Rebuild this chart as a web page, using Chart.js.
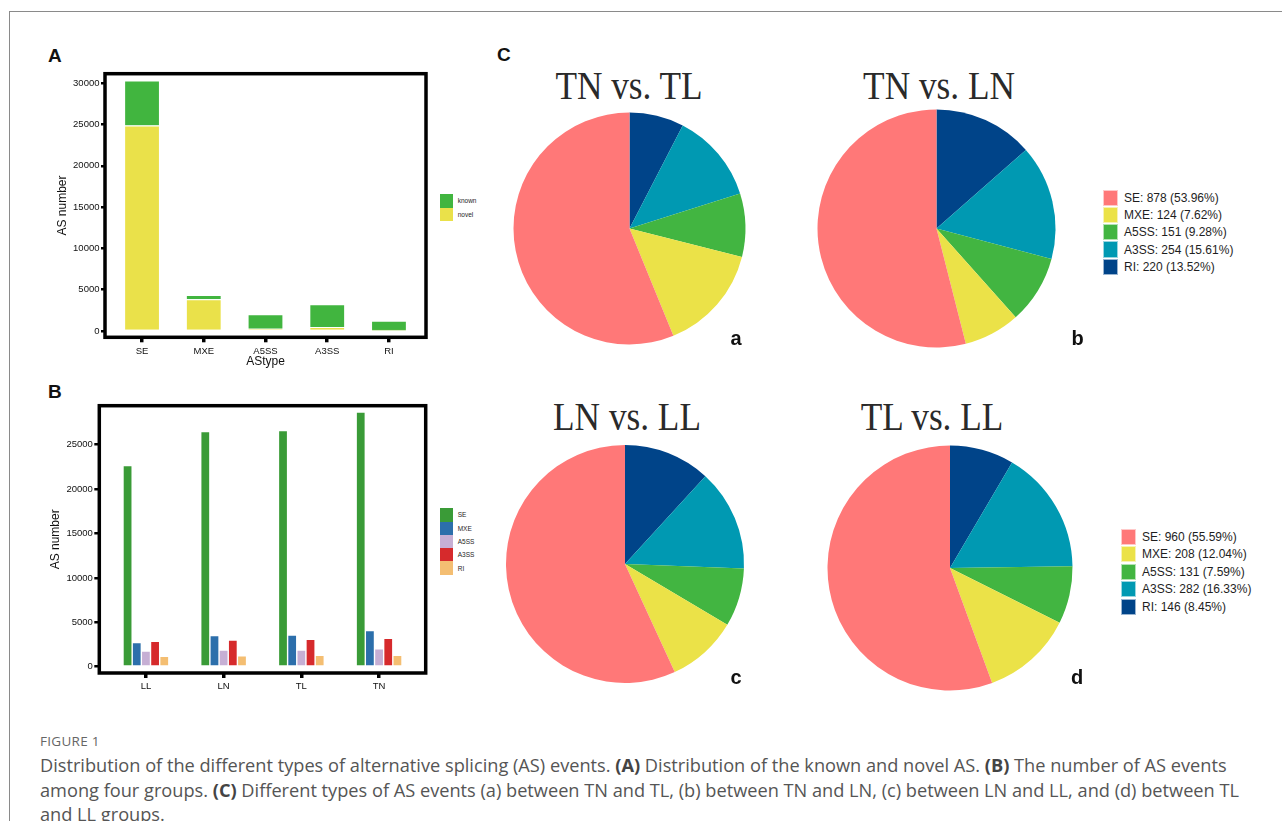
<!DOCTYPE html>
<html>
<head>
<meta charset="utf-8">
<script src="https://cdn.jsdelivr.net/npm/chart.js@4/dist/chart.umd.min.js"></script>
<style>
  html, body { margin: 0; padding: 0; background: #fff; }
  body { width: 1282px; height: 821px; position: relative; overflow: hidden; font-family: "Liberation Sans", Arial, sans-serif; }
  .fig-frame { position: absolute; left: 9px; top: 11px; width: 1400px; height: 1000px; border-left: 1.5px solid #8a8a8a; border-top: 1.5px solid #8a8a8a; }
  canvas { position: absolute; }
  .panel { position: absolute; font-weight: bold; font-size: 19px; line-height: 19px; color: #111; }
  .sub { position: absolute; font-weight: bold; font-size: 20px; line-height: 20px; color: #111; }
  .ptitle { position: absolute; font-family: "Liberation Serif", serif; font-size: 41px; line-height: 41px; color: #2a2a2a; white-space: nowrap; transform: translateX(-50%) scaleX(0.86); }
  .legend { position: absolute; color: #1e1e1e; white-space: nowrap; }
  .legend .row { display: flex; align-items: center; }
  .legend .sw { display: inline-block; box-sizing: border-box; }
  .caption { position: absolute; left: 40px; font-family: "Open Sans", sans-serif; color: #555; white-space: nowrap; }
  .caption b { color: #444; font-weight: 700; }
</style>
</head>
<body>
<div class="fig-frame"></div>

<div class="panel" style="left:48px;top:46px;">A</div>
<div class="panel" style="left:48px;top:382px;">B</div>
<div class="panel" style="left:497px;top:45px;">C</div>

<canvas id="chartA" width="381" height="313" style="left:51px;top:60px;"></canvas>
<div id="legendA" class="legend" style="left:440px;top:194.3px;font-size:6.5px;"></div>

<canvas id="chartB" width="388" height="305" style="left:44px;top:390px;"></canvas>
<div id="legendB" class="legend" style="left:440px;top:508.3px;font-size:6.5px;"></div>

<div class="ptitle" style="left:629px;top:64.7px;">TN vs. TL</div>
<div class="ptitle" style="left:938.5px;top:64.7px;">TN vs. LN</div>
<div class="ptitle" style="left:627px;top:396.4px;">LN vs. LL</div>
<div class="ptitle" style="left:932px;top:396.4px;">TL vs. LL</div>

<canvas id="pieA" width="251" height="251" style="left:504px;top:103px;"></canvas>
<canvas id="pieB" width="251" height="251" style="left:811px;top:103px;"></canvas>
<canvas id="pieC" width="250" height="250" style="left:500px;top:439px;"></canvas>
<canvas id="pieD" width="250" height="250" style="left:825px;top:443px;"></canvas>

<div id="legendTop" class="legend" style="left:1102.7px;top:189px;font-size:12px;"></div>
<div id="legendBottom" class="legend" style="left:1120.7px;top:528px;font-size:12px;"></div>

<div class="sub" style="left:730.5px;top:328px;">a</div>
<div class="sub" style="left:1071.5px;top:328px;">b</div>
<div class="sub" style="left:730.5px;top:666.5px;">c</div>
<div class="sub" style="left:1071px;top:667px;">d</div>

<div class="caption" style="top:732px;font-size:13.5px;letter-spacing:0.3px;color:#666;">FIGURE 1</div>
<div class="caption" style="top:753px;font-size:18.2px;line-height:24.5px;">
Distribution of the different types of alternative splicing (AS) events. <b>(A)</b> Distribution of the known and novel AS. <b>(B)</b> The number of AS events<br>
among four groups. <b>(C)</b> Different types of AS events (a) between TN and TL, (b) between TN and LN, (c) between LN and LL, and (d) between TL<br>
and LL groups.
</div>

<script>
// ---- Panel A: known vs. novel AS events per type ----
const asTypes = ['SE', 'MXE', 'A5SS', 'A3SS', 'RI'];
const knownCounts = [5450, 500, 1740, 2750, 1190];
const novelCounts = [24900, 3850, 280, 480, 60];
const yTicksA = [0, 5000, 10000, 15000, 20000, 25000, 30000];

// ---- Panel B: AS events per group ----
const groups = ['LL', 'LN', 'TL', 'TN'];
const seByGroup   = [22660, 26490, 26600, 28680];
const mxeByGroup  = [2710, 3500, 3570, 4060];
const a5ssByGroup = [1770, 1880, 1880, 2030];
const a3ssByGroup = [2860, 3010, 3090, 3200];
const riByGroup   = [1170, 1240, 1280, 1280];
const yTicksB = [0, 5000, 10000, 15000, 20000, 25000];

// ---- Panel C: differential AS events per comparison ----
const pieTypes = ['SE', 'MXE', 'A5SS', 'A3SS', 'RI'];
const tnVsTl = [955, 253, 150, 213, 129];
const tnVsLn = [878, 124, 151, 254, 220];
const lnVsLl = [853, 144, 119, 207, 177];
const tlVsLl = [960, 208, 131, 282, 146];

const colorsA = { known: '#41B53F', novel: '#EAE14A' };
const colorsB = ['#3A9B37', '#2C6FAB', '#C6AFD4', '#D62A2C', '#F4BE72'];
const pieColors = ['#FF7878', '#EBE248', '#42B541', '#0099B2', '#004489'];

Chart.defaults.font.family = '"Liberation Sans", Arial, sans-serif';
Chart.defaults.color = '#111';

// thick black box around the plotting panel
const panelFrame = {
  id: 'panelFrame',
  afterDatasetsDraw(chart, args, opts) {
    const { ctx, chartArea: a } = chart;
    ctx.save();
    ctx.strokeStyle = '#000';
    ctx.lineWidth = opts.width || 3.5;
    ctx.strokeRect(a.left, a.top, a.right - a.left, a.bottom - a.top);
    ctx.restore();
  }
};

function points(values) {
  return values.map((v, i) => ({ x: i + 1, y: v }));
}

function xAxis(labels, height, title) {
  return {
    type: 'linear', min: 0.4, max: labels.length + 0.6, offset: false, bounds: 'data',
    afterBuildTicks: s => { s.ticks = labels.map((_, i) => ({ value: i + 1 })); },
    afterFit: s => { s.height = height; },
    ticks: { callback: v => labels[Math.round(v) - 1], font: { size: 9.5 }, color: '#111', padding: 3, autoSkip: false, maxRotation: 0 },
    grid: { display: true, drawOnChartArea: false, drawTicks: true, tickLength: 5, lineWidth: 3.5, color: '#000', offset: false },
    border: { display: false },
    title: title ? { display: true, text: title, font: { size: 12 }, color: '#111', padding: { top: 2, bottom: 4 } } : { display: false }
  };
}

function yAxis(min, max, tickValues, width, tickLen) {
  return {
    type: 'linear', min: min, max: max, bounds: 'data',
    afterBuildTicks: s => { s.ticks = tickValues.map(v => ({ value: v })); },
    afterFit: s => { s.width = width; },
    ticks: { callback: v => String(v), font: { size: 9.5 }, color: '#111', padding: 1.5 },
    grid: { display: true, drawOnChartArea: false, drawTicks: true, tickLength: tickLen, lineWidth: 2.5, color: '#000' },
    border: { display: false },
    title: { display: true, text: 'AS number', font: { size: 12 }, color: '#111', padding: { top: 4, bottom: 4 } }
  };
}

const chartA = new Chart(document.getElementById('chartA'), {
  type: 'bar',
  data: {
    datasets: [
      { label: 'novel', data: points(novelCounts), backgroundColor: colorsA.novel, borderColor: '#fff', borderWidth: 1 },
      { label: 'known', data: points(knownCounts), backgroundColor: colorsA.known, borderColor: '#fff', borderWidth: 1 }
    ]
  },
  options: {
    responsive: false, animation: false,
    layout: { padding: { top: 13.7, right: 6, left: 0, bottom: 0 } },
    datasets: { bar: { categoryPercentage: 1, barPercentage: 0.58 } },
    plugins: { legend: { display: false }, tooltip: { enabled: false }, panelFrame: { width: 3.5 } },
    scales: {
      x: Object.assign(xAxis(asTypes, 35.7, 'AStype'), { stacked: true }),
      y: Object.assign(yAxis(-763, 31163, yTicksA, 54, 4), { stacked: true })
    }
  },
  plugins: [panelFrame]
});

const seriesB = [
  ['SE', seByGroup], ['MXE', mxeByGroup], ['A5SS', a5ssByGroup], ['A3SS', a3ssByGroup], ['RI', riByGroup]
];
const chartB = new Chart(document.getElementById('chartB'), {
  type: 'bar',
  data: {
    datasets: seriesB.map(([name, vals], i) => ({
      label: name, data: points(vals), backgroundColor: colorsB[i], borderColor: '#fff', borderWidth: 0.7
    }))
  },
  options: {
    responsive: false, animation: false,
    layout: { padding: { top: 15.7, right: 6.3, left: 0, bottom: 0 } },
    datasets: { bar: { categoryPercentage: 0.59, barPercentage: 1 } },
    plugins: { legend: { display: false }, tooltip: { enabled: false }, panelFrame: { width: 3.5 } },
    scales: {
      x: xAxis(groups, 22, null),
      y: yAxis(-709, 29392, yTicksB, 55.3, 5)
    }
  },
  plugins: [panelFrame]
});

// small ggplot-style legend built from a chart's own legend items
function barLegend(chart, el, reverse) {
  let items = chart.options.plugins.legend.labels.generateLabels(chart);
  if (reverse) items = items.reverse();
  el.innerHTML = items.map(it =>
    `<div class="row" style="height:13.3px"><span class="sw" style="width:13.3px;height:13.3px;background:${it.fillStyle}"></span>` +
    `<span style="margin-left:4.4px">${it.text}</span></div>`).join('');
}
barLegend(chartA, document.getElementById('legendA'), true);
barLegend(chartB, document.getElementById('legendB'), false);

// pies start at 12 o'clock and run clockwise: RI, A3SS, A5SS, MXE, SE
function pieChart(id, values, radius) {
  return new Chart(document.getElementById(id), {
    type: 'pie',
    data: {
      labels: pieTypes.slice().reverse(),
      datasets: [{
        data: values.slice().reverse(),
        backgroundColor: pieColors.slice().reverse(),
        borderWidth: 0,
        radius: radius
      }]
    },
    options: {
      responsive: false, animation: false,
      plugins: { legend: { display: false }, tooltip: { enabled: false } }
    }
  });
}
pieChart('pieA', tnVsTl, 116);
const pieB = pieChart('pieB', tnVsLn, 119);
pieChart('pieC', lnVsLl, 119);
const pieD = pieChart('pieD', tlVsLl, 122.5);

function pieLegend(chart, el, rowH) {
  const vals = chart.data.datasets[0].data;
  const names = chart.data.labels;
  const total = vals.reduce((a, b) => a + b, 0);
  const rows = names.map((n, i) => ({ n, v: vals[i], c: chart.data.datasets[0].backgroundColor[i] })).reverse();
  el.innerHTML = rows.map(r =>
    `<div class="row" style="height:${rowH}px"><span class="sw" style="width:15.3px;height:16.3px;background:${r.c};border:0.5px solid rgba(255,255,255,0.6)"></span>` +
    `<span style="margin-left:6px">${r.n}: ${r.v} (${(r.v / total * 100).toFixed(2)}%)</span></div>`).join('');
}
pieLegend(pieB, document.getElementById('legendTop'), 17.3);
pieLegend(pieD, document.getElementById('legendBottom'), 17.5);
</script>
</body>
</html>
